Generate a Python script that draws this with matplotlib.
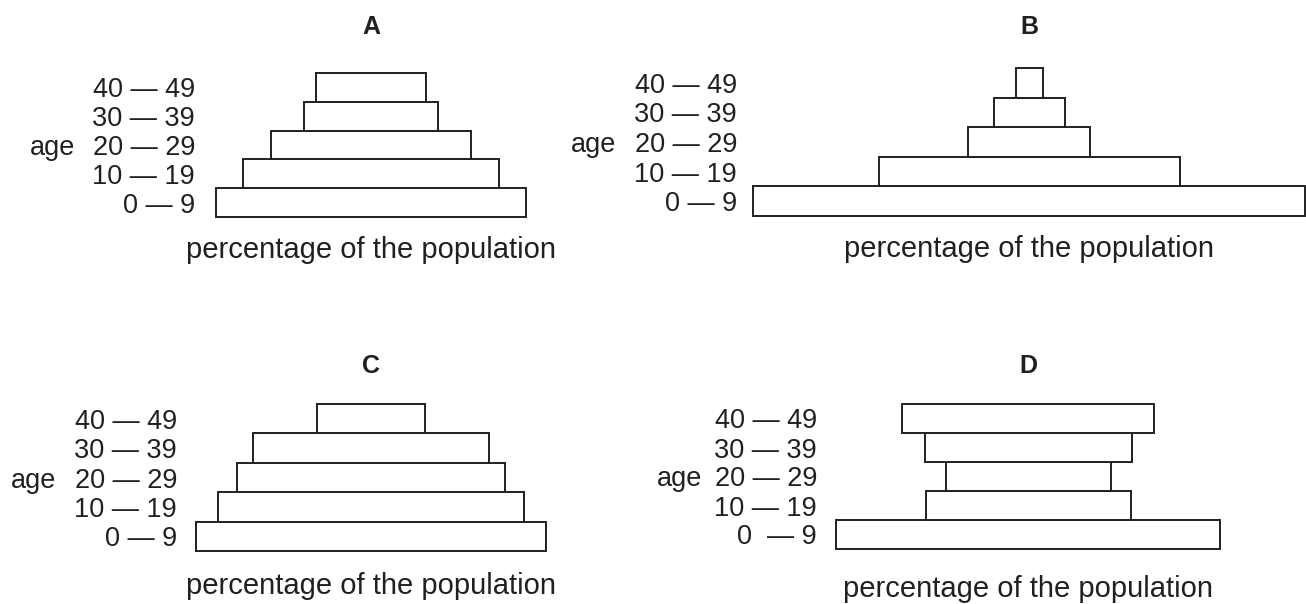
"""Four population pyramids (A-D): share of population by age group."""

import matplotlib

matplotlib.use("Agg")
import matplotlib.pyplot as plt

INK = "#231f20"
W, H, DPI = 1306, 604, 100
PX_PER_UNIT = 10  # horizontal scale shared by all four pyramids

plt.rcParams.update({
    "font.family": ["Liberation Sans", "DejaVu Sans"],
    "text.color": INK,
})

# data: widths of the bars (percentage of the population), youngest group first
age_groups = ["0 \u2014 9", "10 \u2014 19", "20 \u2014 29", "30 \u2014 39", "40 \u2014 49"]
age_groups_d = ["0  \u2014 9", "10 \u2014 19", "20 \u2014 29", "30 \u2014 39", "40 \u2014 49"]
pyramid_a = [31.0, 25.6, 20.0, 13.4, 11.0]
pyramid_b = [55.2, 30.1, 12.2, 7.1, 2.7]
pyramid_c = [35.0, 30.6, 26.8, 23.6, 10.8]
pyramid_d = [38.4, 20.5, 16.5, 20.7, 25.2]
panel_names = ["A", "B", "C", "D"]

# layout in pixels: centre x, axes left, axes right, bars top, bars bottom,
# title y, xlabel y, "age" offset
layout = {
    "A": (371, 199, 560, 73, 217, 27, 250, -124),
    "B": (1029, 741, 1306, 68, 216, 27, 249, -125),
    "C": (371, 181, 560, 404, 551, 366, 586, -125),
    "D": (1028, 821, 1240, 404, 549, 366, 589, -119),
}


def pyramid(fig, name, values, labels):
    cx, left, right, top, bottom, ty, ly, age_dx = layout[name]
    ax = fig.add_axes([left / W, 1 - bottom / H, (right - left) / W, (bottom - top) / H])
    y = range(len(values))
    lefts = [-v / 2 for v in values]
    ax.barh(y, values, left=lefts, height=1.0, color="white", edgecolor=INK,
            linewidth=1.4, clip_on=False)
    ax.set_xlim(-(cx - left) / PX_PER_UNIT, (right - cx) / PX_PER_UNIT)
    ax.set_ylim(-0.5, len(values) - 0.5)
    ax.set_yticks(list(y))
    ax.set_yticklabels(labels, fontsize=19.5, color=INK)
    ax.tick_params(axis="y", length=0, pad=2.9)
    ax.set_xticks([])
    for s in ax.spines.values():
        s.set_visible(False)
    ax.patch.set_visible(False)
    ax.annotate("age", xy=(0, 2), xycoords=("axes fraction", "data"),
                xytext=(age_dx, 0), textcoords="offset pixels",
                ha="right", va="center_baseline", fontsize=19.5, color=INK)
    fig.text(cx / W, 1 - ty / H, name, ha="center", va="center",
             fontsize=18, weight="bold", color=INK)
    fig.text(cx / W, 1 - ly / H, "percentage of the population", ha="center",
             va="center", fontsize=21, color=INK)
    return ax


fig = plt.figure(figsize=(W / DPI, H / DPI), dpi=DPI)
all_values = [pyramid_a, pyramid_b, pyramid_c, pyramid_d]
for name, vals in zip(panel_names, all_values):
    pyramid(fig, name, vals, age_groups_d if name == "D" else age_groups)

fig.savefig("out.png", dpi=DPI, facecolor="white")
